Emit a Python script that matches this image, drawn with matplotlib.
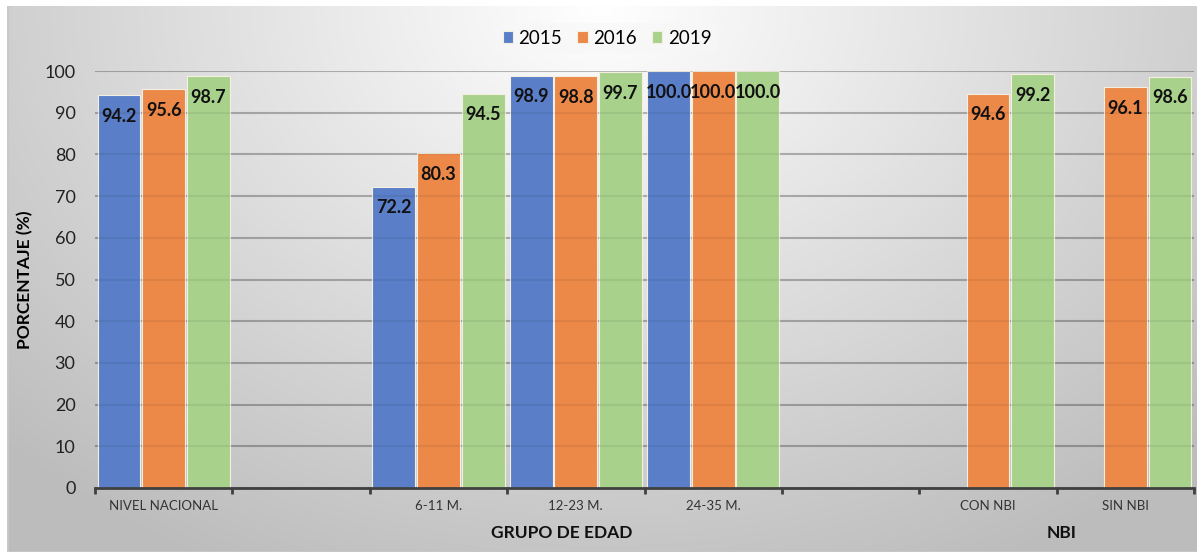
import numpy as np
import matplotlib.pyplot as plt

plt.rcParams['font.family'] = ['Lato', 'DejaVu Sans']

categorias = ['NIVEL NACIONAL', '', '6-11 M.', '12-23 M.', '24-35 M.', '', 'CON NBI', 'SIN NBI']
anios = ['2015', '2016', '2019']
v2015 = [94.2, np.nan, 72.2, 98.9, 100.0, np.nan, np.nan, np.nan]
v2016 = [95.6, np.nan, 80.3, 98.8, 100.0, np.nan, 94.6, 96.1]
v2019 = [98.7, np.nan, 94.5, 99.7, 100.0, np.nan, 99.2, 98.6]
grupos = ['GRUPO DE EDAD', 'NBI']

colores = ['#5a7fc8', '#ec8848', '#a8d18c']
W, H = 1197, 552

fig = plt.figure(figsize=(W / 100, H / 100), dpi=100)
fig.patch.set_facecolor('white')

# fondo con degradado radial (como el grafico de Excel)
bg = fig.add_axes([7 / W, 0, (W - 7) / W, (H - 6) / H])
yy, xx = np.mgrid[0:1:300j, 0:1:600j]
r = np.sqrt(((xx - 0.5) / 0.7) ** 2 + ((yy - 0.0) / 1.15) ** 2)
g = np.clip(1.0 - 0.26 * r, 0.74, 1)
bg.imshow(np.dstack([g, g, g]), aspect='auto', extent=[0, 1, 1, 0])
bg.set_axis_off()
bg.plot([0, 0, 1], [1, 0, 0], color='#c8c8c8', lw=2, transform=bg.transAxes)

ax = fig.add_axes([95 / W, (H - 488) / H, (1194 - 95) / W, (488 - 71) / H])
ax.patch.set_alpha(0)

x = np.arange(len(categorias))
ancho = 0.312
desp = 0.325
series = [v2015, v2016, v2019]
for i, (serie, c, lab) in enumerate(zip(series, colores, anios)):
    ax.bar(x + (i - 1) * desp, serie, ancho, color=c, label=lab,
           edgecolor='#f4efe0', linewidth=0.8, zorder=3)
    for xi, v in zip(x + (i - 1) * desp, serie):
        if not np.isnan(v):
            ax.text(xi, v - 3.0, f'{v:.1f}', ha='center', va='top',
                    fontsize=13, fontweight='bold', color='#111111', zorder=5)

ax.set_xlim(-0.5, len(categorias) - 0.5)
ax.set_ylim(0, 100)
ax.set_yticks(np.arange(0, 101, 10))
ax.yaxis.grid(True, color='black', alpha=0.22, lw=1.5, zorder=0)
for yv in np.arange(10, 101, 10):
    ax.axhline(yv, color='black', alpha=0.06, lw=1.5, zorder=4)
ax.tick_params(axis='y', length=0, labelsize=13, pad=14, labelcolor='#222222')

ax.set_xticks(x)
ax.set_xticklabels(categorias, fontsize=9.5, color='#333333')
ax.tick_params(axis='x', length=0, pad=9)
ax.set_xticks(np.arange(-0.5, len(categorias)), minor=True)
ax.tick_params(axis='x', which='minor', length=4, width=2, color='#404040', direction='out')

for s in ['top', 'right', 'left']:
    ax.spines[s].set_visible(False)
ax.spines['bottom'].set_color('#404040')
ax.spines['bottom'].set_linewidth(2)
ax.spines['bottom'].set_zorder(6)

ax.set_ylabel('PORCENTAJE (%)', fontsize=12.5, fontweight='bold', labelpad=8)

fig.text(562 / W, 1 - 533 / H, grupos[0], ha='center', va='center',
         fontsize=12.5, fontweight='bold', color='#111111')
fig.text(1062 / W, 1 - 533 / H, grupos[1], ha='center', va='center',
         fontsize=12.5, fontweight='bold', color='#111111')

leg = fig.legend(loc='center', bbox_to_anchor=(607 / W, 1 - 38 / H), ncol=3,
                 frameon=True, fontsize=13.5, handlelength=0.55, handleheight=0.55,
                 handletextpad=0.3, columnspacing=0.8, borderpad=0.35)
leg.get_frame().set_facecolor('#f7f7f7')
leg.get_frame().set_edgecolor('none')
leg.get_frame().set_alpha(0.6)

fig.savefig('out.png', dpi=100)
